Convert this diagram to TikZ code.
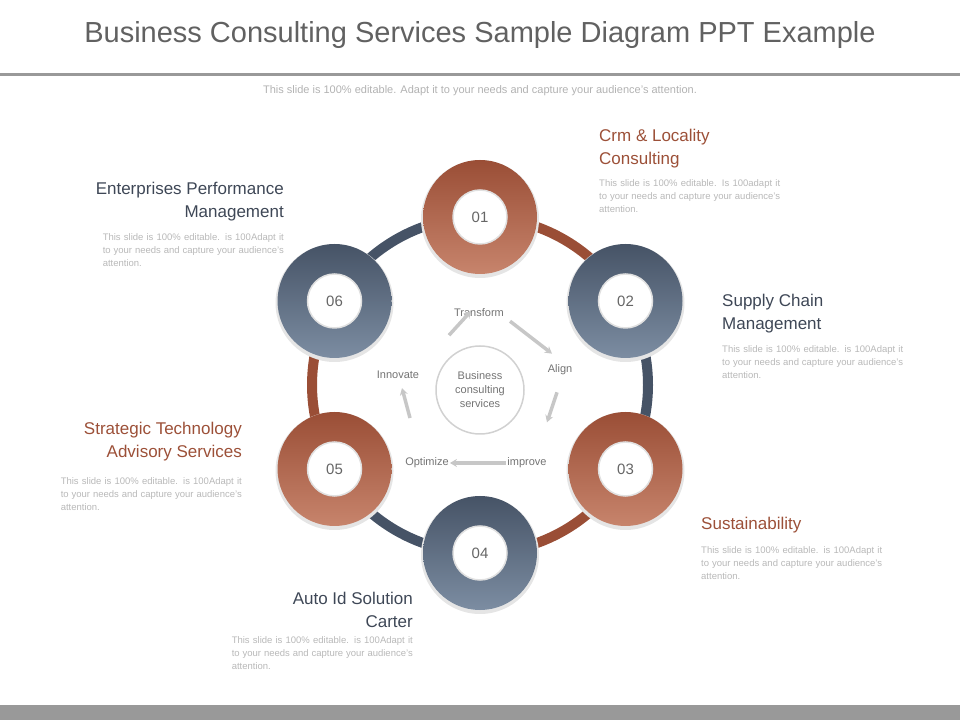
\documentclass[tikz,border=0pt]{standalone}
\usepackage{fontspec}
\setmainfont{Liberation Sans}
\usetikzlibrary{arrows.meta}
\definecolor{rust}{HTML}{9A4E36}
\definecolor{rustlight}{HTML}{C7846C}
\definecolor{slate}{HTML}{465366}
\definecolor{slatelight}{HTML}{7C8DA2}
\definecolor{headdark}{HTML}{3E4756}
\definecolor{headrust}{HTML}{9C5038}
\definecolor{bodygray}{HTML}{B8B8B8}
\tikzset{
  rustring/.style={circle, minimum size=114pt, inner sep=0pt, top color=rust, bottom color=rustlight},
  slatering/.style={circle, minimum size=114pt, inner sep=0pt, top color=slate, bottom color=slatelight},
  hole/.style={circle, fill=white, draw=black!12, line width=1.5pt, minimum size=54pt, inner sep=0pt,
    font=\fontsize{15}{15}\selectfont, text=black!60},
  heading/.style={font=\fontsize{17}{23}\selectfont, inner sep=0pt},
  bodytext/.style={font=\fontsize{9.5}{13}\selectfont, text=bodygray, text width=181pt, align=justify, inner sep=0pt},
  steplabel/.style={font=\fontsize{11}{11}\selectfont, text=black!55, inner sep=1pt},
  steparrow/.style={-{Stealth[length=7pt,width=8pt]}, line width=3.5pt, black!22},
}
\begin{document}
\begin{tikzpicture}[x=1pt,y=1pt]
    \useasboundingbox (0,0) rectangle (960,720);
    % Title and frame
    \node (title) at (480,685) {\fontsize{29}{29}\selectfont\color{black!62}Business Consulting Services Sample Diagram PPT Example};
    \fill[black!40] (0,643.5) rectangle (960,646.5);
    \node (subtitle) at (480,629) {\fontsize{11}{11}\selectfont\color{black!30}This slide is 100\% editable. Adapt it to your needs and capture your audience's attention.};
    \fill[black!40] (0,0) rectangle (960,15);

    % Ring segments
    \coordinate (hub) at (480,335);
    \foreach \a/\b/\c in {90/30/rust, 30/-30/slate, -30/-90/rust, -90/-150/slate, -150/-210/rust, 150/90/slate}
        \draw[\c, line width=10pt] ([shift={(\a:168)}]hub) arc[start angle=\a, end angle=\b, radius=168];

    % Numbered circles
    \foreach \n/\ang/\sty in {01/90/rustring, 02/30/slatering, 03/-30/rustring, 04/-90/slatering, 05/210/rustring, 06/150/slatering} {
        \fill[black!10] ([shift={(\ang:168)}]hub) ++(0,-2) circle (59);
        \node[\sty] (c\n) at ([shift={(\ang:168)}]hub) {};
        \node[hole] (h\n) at (c\n) {\n};
    }

    % Centre
    \node[circle, draw=black!18, line width=1.5pt, minimum size=88pt, align=center,
          font=\fontsize{11}{14}\selectfont, text=black!55] (core) at (480,330) {Business\\consulting\\services};
    \node[steplabel] (transform) at (479,407) {Transform};
    \node[steplabel] (align) at (560,350) {Align};
    \node[steplabel] (improve) at (527,257) {improve};
    \node[steplabel] (optimize) at (427,257) {Optimize};
    \node[steplabel] (innovate) at (398,345) {Innovate};
    \draw[steparrow] ([shift={(-30,-17)}]transform.south) -- ([shift={(-34,2)}]transform.east);
    \draw[steparrow] ([shift={(5,-3)}]transform.south east) -- ([shift={(-8,10)}]align.north);
    \draw[steparrow] ([shift={(-3,-16)}]align.south) -- ([shift={(-13,-46)}]align.south);
    \draw[steparrow] (improve.west) -- (optimize.east);
    \draw[steparrow] ([shift={(12,-38)}]innovate.south) -- ([shift={(4,-8)}]innovate.south);

    % Text blocks
    \node[heading, text=headrust, anchor=north west, align=left] (crmhead) at (599,591) {Crm \& Locality\\Consulting};
    \node[bodytext, anchor=north west] (crmbody) at (599,541) {This slide is 100\% editable. Is 100adapt it to your needs and capture your audience’s attention.};
    \node[heading, text=headdark, anchor=north east, align=right] (enthead) at (284,538) {Enterprises Performance\\Management};
    \node[bodytext, anchor=north east] (entbody) at (284,487) {This slide is 100\% editable. is 100Adapt it to your needs and capture your audience's attention.};
    \node[heading, text=headdark, anchor=north west, align=left] (suphead) at (722,426) {Supply Chain\\Management};
    \node[bodytext, anchor=north west] (supbody) at (722,375) {This slide is 100\% editable. is 100Adapt it to your needs and capture your audience's attention.};
    \node[heading, text=headrust, anchor=north east, align=right] (strhead) at (242,298) {Strategic Technology\\Advisory Services};
    \node[bodytext, anchor=north east] (strbody) at (242,243) {This slide is 100\% editable. is 100Adapt it to your needs and capture your audience's attention.};
    \node[heading, text=headrust, anchor=north west, align=left] (sushead) at (701,203) {Sustainability};
    \node[bodytext, anchor=north west] (susbody) at (701,174) {This slide is 100\% editable. is 100Adapt it to your needs and capture your audience's attention.};
    \node[heading, text=headdark, anchor=north east, align=right] (autohead) at (413,128) {Auto Id Solution\\Carter};
    \node[bodytext, anchor=north east] (autobody) at (413,84) {This slide is 100\% editable. is 100Adapt it to your needs and capture your audience's attention.};
\end{tikzpicture}
\end{document}
